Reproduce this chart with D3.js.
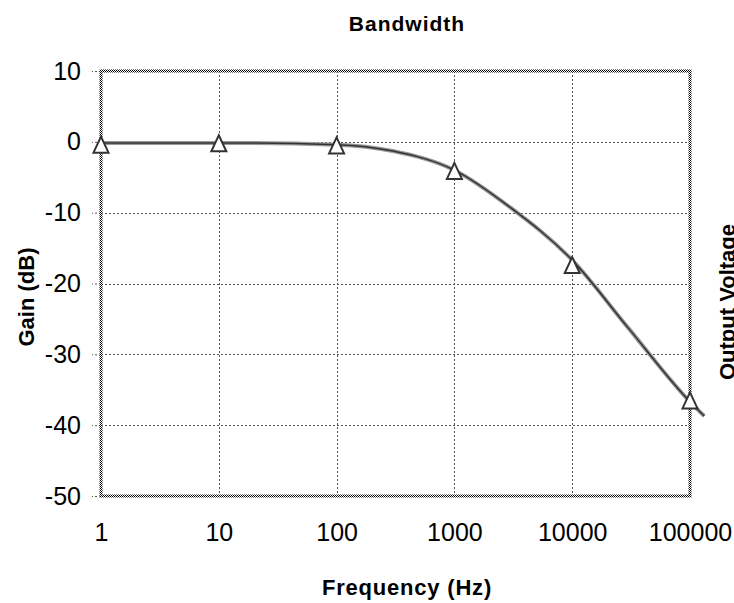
<!DOCTYPE html>
<html>
<head>
<meta charset="utf-8">
<script src="https://cdn.jsdelivr.net/npm/d3@7"></script>
<style>
  body { margin: 0; background: #fff; }
  #chart-container { width: 734px; height: 603px; }
  text { font-family: "Liberation Sans", Arial, sans-serif; fill: #000; }
</style>
</head>
<body>
<div id="chart-container"></div>
<script>
const width = 734;
const height = 603;

// measured points (triangles)
const freqs = [1, 10, 100, 1000, 10000, 100000];
const gains = [-0.4, -0.2, -0.5, -4.1, -17.4, -36.5];

// smooth response line
const lineFreqs = [1, 10, 100, 300, 1000, 3000, 10000, 30000, 100000, 132000];
const lineGains = [-0.15, -0.15, -0.4, -1.3, -4.0, -9.3, -16.7, -26.3, -36.7, -38.7];

const xTicks = [1, 10, 100, 1000, 10000, 100000];
const yTicks = [10, 0, -10, -20, -30, -40, -50];

const plot = { left: 101, right: 690, top: 71, bottom: 496 };

const svg = d3
  .select("#chart-container")
  .append("svg")
  .attr("width", width)
  .attr("height", height);

// dithered pattern used by the old chart renderer
const defs = svg.append("defs");
const dither = defs
  .append("pattern")
  .attr("id", "dither")
  .attr("patternUnits", "userSpaceOnUse")
  .attr("width", 2)
  .attr("height", 2);
dither.append("rect").attr("width", 2).attr("height", 2).attr("fill", "#fff");
dither.append("rect").attr("width", 1).attr("height", 1).attr("fill", "#000");
dither.append("rect").attr("x", 1).attr("y", 1).attr("width", 1).attr("height", 1).attr("fill", "#000");

const x = d3.scaleLog().domain([1, 100000]).range([plot.left, plot.right]);
const y = d3.scaleLinear().domain([-50, 10]).range([plot.bottom, plot.top]);

// gridlines
svg
  .append("g")
  .selectAll("line")
  .data(xTicks.slice(1, -1))
  .enter()
  .append("line")
  .attr("x1", (d) => Math.round(x(d)) + 0.5)
  .attr("x2", (d) => Math.round(x(d)) + 0.5)
  .attr("y1", plot.top)
  .attr("y2", plot.bottom)
  .attr("stroke", "#555")
  .attr("stroke-dasharray", "2,2");

svg
  .append("g")
  .selectAll("line")
  .data(yTicks.slice(1, -1))
  .enter()
  .append("line")
  .attr("x1", plot.left)
  .attr("x2", plot.right)
  .attr("y1", (d) => Math.round(y(d)) + 0.5)
  .attr("y2", (d) => Math.round(y(d)) + 0.5)
  .attr("stroke", "#555")
  .attr("stroke-dasharray", "2,2");

// axes
const yAxis = svg
  .append("g")
  .attr("transform", `translate(${plot.left},0)`)
  .call(
    d3.axisLeft(y)
      .tickValues(yTicks)
      .tickFormat((d) => String(d))
      .tickSizeInner(9)
      .tickSizeOuter(0)
      .tickPadding(11)
  );
yAxis.select(".domain").remove();
yAxis.selectAll(".tick line").attr("stroke", "#555").attr("stroke-dasharray", "2,2");
yAxis.selectAll("text").attr("font-size", 25).attr("fill", "#000");

const xAxis = svg
  .append("g")
  .attr("transform", `translate(0,${plot.bottom})`)
  .call(d3.axisBottom(x).tickValues(xTicks).tickFormat(d3.format("d")).tickSize(0).tickPadding(27));
xAxis.select(".domain").remove();
xAxis.selectAll("text").attr("font-size", 25).attr("fill", "#000");

// plot frame
svg
  .append("rect")
  .attr("x", plot.left)
  .attr("y", plot.top)
  .attr("width", plot.right - plot.left)
  .attr("height", plot.bottom - plot.top)
  .attr("fill", "none")
  .attr("stroke", "url(#dither)")
  .attr("stroke-width", 3);

// response line
const lineData = lineFreqs.map((f, i) => ({ f: f, g: lineGains[i] }));
const line = d3
  .line()
  .x((d) => x(d.f))
  .y((d) => y(d.g))
  .curve(d3.curveMonotoneX);

svg
  .append("path")
  .datum(lineData)
  .attr("d", line)
  .attr("fill", "none")
  .attr("stroke", "#999")
  .attr("stroke-width", 4);
svg
  .append("path")
  .datum(lineData)
  .attr("d", line)
  .attr("fill", "none")
  .attr("stroke", "#333")
  .attr("stroke-width", 1.5);

// triangle markers
const points = freqs.map((f, i) => ({ f: f, g: gains[i] }));
const tri = (w, h) => `M0,${-h / 2}L${w / 2},${h / 2}L${-w / 2},${h / 2}Z`;
svg
  .append("g")
  .selectAll("path")
  .data(points)
  .enter()
  .append("path")
  .attr("transform", (d) => `translate(${x(d.f)},${y(d.g)})`)
  .attr("d", tri(15, 16))
  .attr("fill", "#fff")
  .attr("stroke", "#333")
  .attr("stroke-width", 2);

// titles
svg
  .append("text")
  .attr("x", 407)
  .attr("y", 31)
  .attr("text-anchor", "middle")
  .attr("font-size", 21)
  .attr("font-weight", "bold")
  .attr("letter-spacing", 1)
  .text("Bandwidth");

svg
  .append("text")
  .attr("x", 407)
  .attr("y", 595)
  .attr("text-anchor", "middle")
  .attr("font-size", 22)
  .attr("font-weight", "bold")
  .attr("letter-spacing", 0.8)
  .text("Frequency (Hz)");

svg
  .append("text")
  .attr("transform", "translate(34,297) rotate(-90)")
  .attr("text-anchor", "middle")
  .attr("font-size", 22)
  .attr("font-weight", "bold")
  .text("Gain (dB)");

svg
  .append("text")
  .attr("transform", "translate(735,302) rotate(-90)")
  .attr("text-anchor", "middle")
  .attr("font-size", 22)
  .attr("font-weight", "bold")
  .text("Output Voltage");
</script>
</body>
</html>
